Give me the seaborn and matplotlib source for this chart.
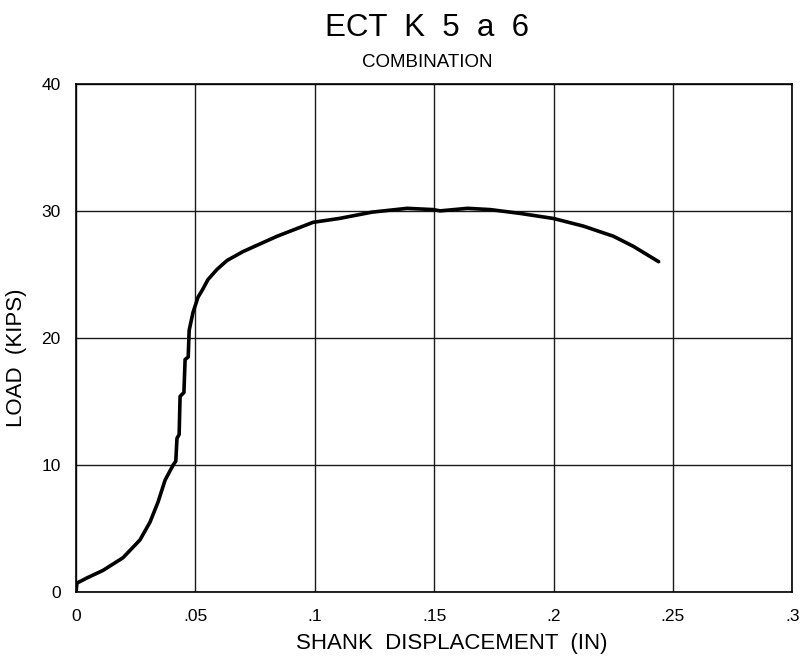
import matplotlib
matplotlib.use("Agg")
import matplotlib.pyplot as plt
import seaborn as sns
import pandas as pd

# Load–displacement record for specimen ECT K 5 a 6
displacement = [0.0, 0.0004, 0.0045, 0.0113, 0.0197, 0.0268, 0.031, 0.0344, 0.0373,
                0.0407, 0.0418, 0.0423, 0.0432, 0.0436, 0.0452, 0.0457, 0.0470,
                0.0474, 0.049, 0.0511, 0.053, 0.0553, 0.0591, 0.0633, 0.070,
                0.0842, 0.0993, 0.1102, 0.124, 0.1387, 0.1496, 0.1525, 0.164,
                0.1735, 0.186, 0.200, 0.2125, 0.2251, 0.2335, 0.244]
load = [0.0, 0.7, 1.1, 1.7, 2.7, 4.1, 5.5, 7.1, 8.8,
        10.0, 10.3, 12.1, 12.4, 15.4, 15.7, 18.3, 18.5,
        20.6, 22.0, 23.2, 23.8, 24.6, 25.4, 26.1, 26.8,
        28.0, 29.1, 29.4, 29.9, 30.2, 30.1, 30.0, 30.2,
        30.1, 29.8, 29.4, 28.8, 28.0, 27.2, 26.0]

x_ticks = [0, 0.05, 0.1, 0.15, 0.2, 0.25, 0.3]
x_tick_labels = ["0", ".05", ".1", ".15", ".2", ".25", ".3"]
y_ticks = [0, 10, 20, 30, 40]

df = pd.DataFrame({"disp": displacement, "load": load})

sns.set_theme(style="white")
plt.rcParams["font.family"] = ["Liberation Sans", "DejaVu Sans"]

fig = plt.figure(figsize=(8.04, 6.6), dpi=100)
ax = fig.add_axes([0.0945, 0.103, 0.891, 0.770])

sns.lineplot(data=df, x="disp", y="load", ax=ax, color="black",
             linewidth=2.6, sort=False, estimator=None)

ax.set_xlim(0, 0.3)
ax.set_ylim(0, 40)
ax.set_xticks(x_ticks)
ax.set_xticklabels(x_tick_labels)
ax.set_yticks(y_ticks)
ax.tick_params(axis="both", length=0, labelsize=12.5, colors="black")
ax.tick_params(axis="y", pad=11)
ax.tick_params(axis="x", pad=12)
ax.grid(True, color="#1a1a1a", linewidth=1.0)
for s in ax.spines.values():
    s.set_color("black")
    s.set_linewidth(1.2)

ax.set_xlabel("SHANK  DISPLACEMENT  (IN)", fontsize=16, color="black")
ax.xaxis.set_label_coords(0.524, -0.08)
ax.set_ylabel("LOAD  (KIPS)", fontsize=16, color="black")
ax.yaxis.set_label_coords(-0.068, 0.46)

fig.text(0.531, 0.957, "ECT  K  5  a  6", ha="center", va="center",
         fontsize=22.5, color="black")
fig.text(0.531, 0.906, "COMBINATION", ha="center", va="center",
         fontsize=13.5, color="black")

fig.savefig("out.png", dpi=100, facecolor="white")
